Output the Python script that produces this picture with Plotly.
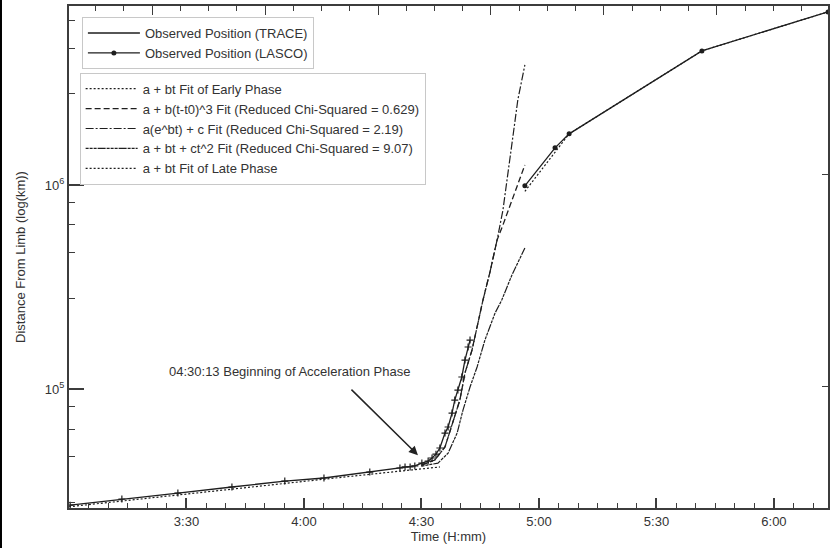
import plotly.graph_objects as go

# ---------------- data (times in minutes after 00:00, distances in km) ----------------
trace_t = [180.3, 193.5, 207.8, 221.6, 235.1, 245.1, 256.8, 264.5, 265.8, 267.1, 268.3,
           270.1, 271.7, 272.7, 273.7, 274.7, 276.0, 276.8, 277.8, 278.5, 279.3, 280.3,
           281.1, 281.9, 282.4]
trace_d = [26980, 28910, 30900, 33110, 35400, 36640, 39170, 41020, 41500, 41500, 41980,
           43350, 44360, 45920, 47970, 51400, 60810, 65160, 76210, 88310, 98850, 114550,
           138680, 160700, 173800]

lasco_t = [296.4, 304.1, 307.7, 341.6, 373.8]
lasco_d = [990000, 1520000, 1780000, 4540000, 7050000]

early_t = [180.0, 200.7, 226.2, 251.7, 274.7]
early_d = [26500, 29300, 33100, 37300, 41500]

cubic_t = [270.0, 273.4, 276.0, 278.0, 279.8, 281.1, 282.9, 284.2, 285.7, 287.5, 289.3,
           290.8, 292.6, 294.4, 296.4]
cubic_d = [42360, 44870, 52000, 68080, 88310, 119700, 155200, 201400, 272900, 375000,
           537000, 636800, 798000, 1000000, 1253000]

exp_t = [270.0, 273.4, 276.0, 278.0, 279.8, 281.1, 282.9, 284.2, 285.7, 287.5, 289.3,
         290.8, 292.1, 293.4, 294.6, 296.4]
exp_d = [42360, 44870, 52000, 68080, 88310, 119700, 155200, 201400, 272900, 375000,
         537000, 753400, 1119000, 1758000, 2612000, 3873000]

quad_t = [270.0, 274.2, 276.8, 279.1, 280.6, 282.4, 284.2, 286.2, 288.8, 290.5, 293.1, 296.4]
quad_d = [41880, 43350, 48530, 60810, 78890, 102300, 128200, 173800, 236000, 272900,
          362200, 490900]

late_t = [296.4, 307.7, 341.6, 373.8]
late_d = [930000, 1780000, 4540000, 7050000]

x_tickvals = [210, 240, 270, 300, 330, 360]
x_ticktext = ["3:30", "4:00", "4:30", "5:00", "5:30", "6:00"]
y_tickvals = [1e5, 1e6]
y_ticktext = ["10<sup>5</sup>", "10<sup>6</sup>"]

# ---------------- figure ----------------
FONT = "Liberation Sans, Arial, sans-serif"
INK = "#1e1e1e"
fig = go.Figure()

fig.add_trace(go.Scatter(x=trace_t, y=trace_d, mode="lines", name="Observed Position (TRACE)",
                         line=dict(color=INK, width=1.3), legend="legend"))
fig.add_trace(go.Scatter(x=trace_t, y=trace_d, mode="markers", showlegend=False,
                         marker=dict(symbol="cross-thin", size=5, line=dict(width=1.2, color=INK))))
fig.add_trace(go.Scatter(x=lasco_t, y=lasco_d, mode="lines+markers", name="Observed Position (LASCO)",
                         line=dict(color=INK, width=1.3),
                         marker=dict(symbol="circle", size=5, color=INK), legend="legend"))

fig.add_trace(go.Scatter(x=early_t, y=early_d, mode="lines", name="a + bt Fit of Early Phase",
                         line=dict(color=INK, width=1.2, dash="2px,2px"), legend="legend2"))
fig.add_trace(go.Scatter(x=cubic_t, y=cubic_d, mode="lines",
                         name="a + b(t-t0)^3 Fit (Reduced Chi-Squared = 0.629)",
                         line=dict(color=INK, width=1.3, dash="6px,3px"), legend="legend2"))
fig.add_trace(go.Scatter(x=exp_t, y=exp_d, mode="lines",
                         name="a(e^bt) + c Fit (Reduced Chi-Squared = 2.19)",
                         line=dict(color=INK, width=1.2, dash="8px,2px,2px,2px"), legend="legend2"))
fig.add_trace(go.Scatter(x=quad_t, y=quad_d, mode="lines",
                         name="a + bt + ct^2 Fit (Reduced Chi-Squared = 9.07)",
                         line=dict(color=INK, width=1.2, dash="3px,1px,3px,1px,3px,1px,8px,1px"),
                         legend="legend2"))
fig.add_trace(go.Scatter(x=late_t, y=late_d, mode="lines", name="a + bt Fit of Late Phase",
                         line=dict(color=INK, width=1.2, dash="2px,2px"), legend="legend2"))

# invisible helpers so the secondary axes exist
fig.add_trace(go.Scatter(x=[XR0 := 180.0], y=[1e5], xaxis="x2", yaxis="y", mode="markers",
                         marker=dict(opacity=0), showlegend=False, hoverinfo="skip"))
fig.add_trace(go.Scatter(x=[XR0], y=[1e5], xaxis="x", yaxis="y2", mode="markers",
                         marker=dict(opacity=0), showlegend=False, hoverinfo="skip"))

XR = [180.0, 373.8]
YR = [4.417, 6.877]
AX = "#3c3c3c"

minor_y = []
for n in (5, 6, 7):
    for f in (0.088, 0.196, 0.333, 0.554):
        minor_y.append(10 ** (n - f))

fig.update_layout(
    width=830, height=548,
    margin=dict(l=69, r=2, t=6, b=40),
    paper_bgcolor="white", plot_bgcolor="white",
    font=dict(family=FONT, size=13, color="#333"),
    xaxis=dict(range=XR, tickmode="array", tickvals=x_tickvals, ticktext=x_ticktext, ticks="inside",
               ticklen=10, tickwidth=1.5, tickcolor=AX, showgrid=False, zeroline=False,
               showline=True, linecolor=AX, linewidth=2,
               minor=dict(dtick=5, tick0=0, ticks="inside", ticklen=5, tickcolor=AX, tickwidth=1.3,
                          showgrid=False),
               title=dict(text="Time (H:mm)", font=dict(size=13), standoff=2),
               tickfont=dict(size=13)),
    xaxis2=dict(range=XR, overlaying="x", side="top", anchor="y", showticklabels=False,
                tick0=201.2, dtick=28.85, ticks="inside", ticklen=9, tickwidth=1.3, tickcolor=AX,
                minor=dict(tick0=201.2, dtick=7.2125, ticks="inside", ticklen=5, tickcolor=AX,
                           tickwidth=1.3, showgrid=False),
                showline=True, linecolor=AX, linewidth=2, showgrid=False, zeroline=False),
    yaxis=dict(type="log", range=YR, tickmode="array", tickvals=y_tickvals, ticktext=y_ticktext,
               ticks="inside", ticklen=15, tickwidth=1.5, tickcolor=AX, showgrid=False,
               zeroline=False, showline=True, linecolor=AX, linewidth=2,
               minor=dict(tickmode="array", tickvals=minor_y, ticks="inside", ticklen=6,
                          tickcolor=AX, tickwidth=1.3, showgrid=False),
               title=dict(text="Distance From Limb (log(km))", font=dict(size=13), standoff=16),
               tickfont=dict(size=13)),
    yaxis2=dict(type="log", range=YR, overlaying="y", side="right", anchor="x",
                showticklabels=False, tickmode="array", tickvals=[10 ** 5.01, 10 ** 6.049],
                ticks="inside", ticklen=6, tickcolor=AX, tickwidth=1.3, showline=True,
                linecolor=AX, linewidth=2, showgrid=False, zeroline=False),
    legend=dict(x=0.017, y=0.978, xanchor="left", yanchor="top", bgcolor="white",
                bordercolor="#c8c8c8", borderwidth=1, font=dict(size=13, color="#333"),
                itemwidth=52, tracegroupgap=0),
    legend2=dict(x=0.014, y=0.867, xanchor="left", yanchor="top", bgcolor="white",
                 bordercolor="#c8c8c8", borderwidth=1, font=dict(size=13, color="#333"),
                 itemwidth=52, tracegroupgap=0),
    showlegend=True,
)

fig.add_annotation(x=236.4, y=5.088, xref="x", yref="y", text="04:30:13 Beginning of Acceleration Phase",
                   showarrow=False, font=dict(size=13, color="#333"))
fig.add_annotation(x=269.1, y=4.676, xref="x", yref="y", text="", showarrow=True,
                   ax=-68, ay=-67, arrowhead=2, arrowsize=1.2, arrowwidth=1.5, arrowcolor="#222")

fig.add_shape(type="line", xref="paper", yref="paper", x0=-0.0896, x1=-0.0896, y0=-0.08, y1=1.012,
              line=dict(color="black", width=2))

fig.write_html("out.html")
